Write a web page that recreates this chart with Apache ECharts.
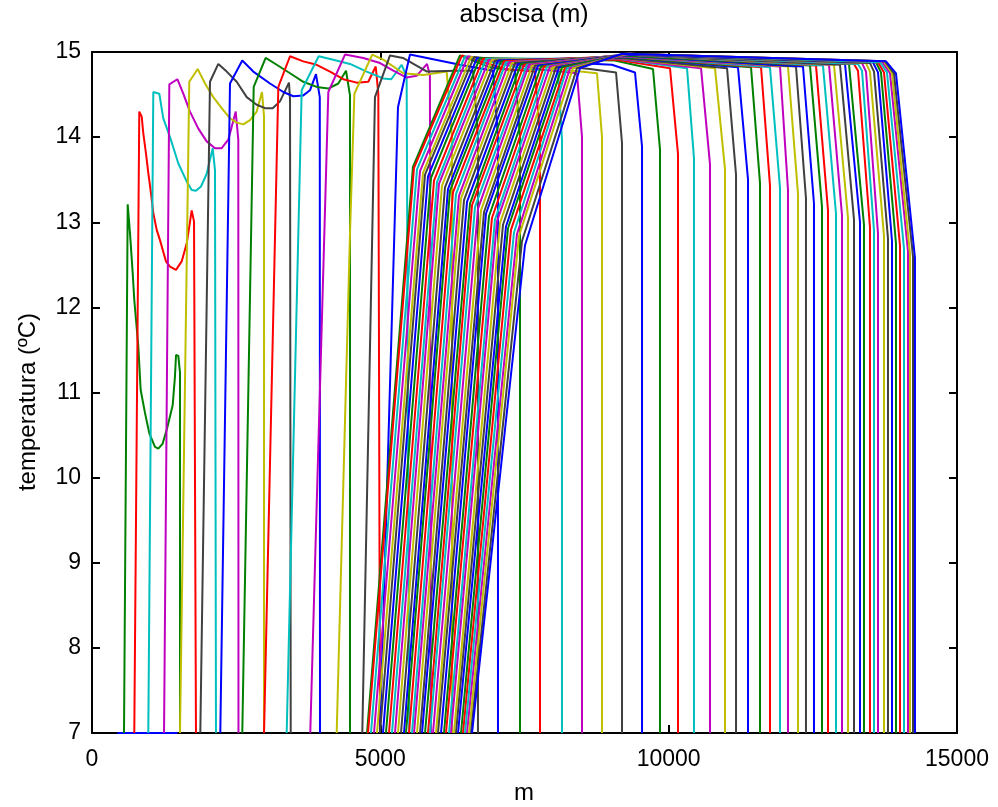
<!DOCTYPE html>
<html>
<head>
<meta charset="utf-8">
<script src="https://cdn.jsdelivr.net/npm/echarts@6/dist/echarts.min.js"></script>
<style>html,body{margin:0;padding:0;background:#fff}#chart{width:998px;height:807px}</style>
</head>
<body>
<div id="chart"></div>
<script>
// MATLAB (classic) colour order, cycled over the curves
const colorOrder = ['#0000ff', '#008000', '#ff0000', '#00bfbf', '#bf00bf', '#bfbf00', '#404040'];

const titleText = 'abscisa (m)';
const xName = 'm';
const yName = 'temperatura (ºC)';
const xMin = 0, xMax = 15000, xStep = 5000;
const yMin = 7, yMax = 15, yStep = 1;

// ---- early profiles (curves 0..13): [abscisa m, temperature ºC] ----
const c00 = [[440,7],[1480,7]];
const c01 = [[555,7],[619,13.21],[659,12.87],[706,12.40],[733,12.09],[803,11.54],[844,11.03],[919,10.76],[994,10.52],[1092,10.36],[1150,10.34],[1226,10.40],[1306,10.59],[1399,10.85],[1439,11.19],[1457,11.44],[1497,11.43],[1526,11.23],[1526,7]];
const c02 = [[733,7],[820,14.30],[862,14.24],[890,14.04],[936,13.81],[976,13.58],[1023,13.34],[1063,13.11],[1122,12.91],[1179,12.79],[1283,12.54],[1353,12.48],[1457,12.44],[1555,12.54],[1642,12.75],[1729,13.14],[1769,13.01],[1803,7]];
const c03 = [[976,7],[1063,14.53],[1167,14.51],[1236,14.22],[1353,14.00],[1497,13.69],[1642,13.48],[1729,13.38],[1803,13.37],[1890,13.42],[1989,13.57],[2093,13.87],[2133,13.61],[2150,7]];
const c04 = [[1249,7],[1341,14.62],[1480,14.68],[1583,14.51],[1699,14.30],[1844,14.10],[1989,13.95],[2133,13.87],[2249,13.87],[2364,13.97],[2492,14.30],[2537,13.97],[2540,7]];
const c05 = [[1526,7],[1687,14.65],[1833,14.80],[1960,14.63],[2103,14.47],[2249,14.34],[2393,14.22],[2509,14.17],[2624,14.15],[2740,14.20],[2856,14.30],[2948,14.53],[2983,14.24],[2983,7]];
const c06 = [[1878,7],[2046,14.65],[2190,14.86],[2336,14.77],[2509,14.65],[2683,14.47],[2856,14.38],[3000,14.34],[3133,14.34],[3260,14.42],[3416,14.64],[3434,14.44],[3446,7]];
const c07 = [[2225,7],[2393,14.63],[2606,14.90],[2797,14.77],[3087,14.63],[3317,14.53],[3491,14.48],[3664,14.49],[3780,14.55],[3884,14.74],[3950,14.47],[3954,7]];
const c08 = [[2606,7],[2804,14.59],[3012,14.93],[3203,14.85],[3434,14.75],[3664,14.65],[3896,14.59],[4098,14.57],[4271,14.63],[4405,14.78],[4474,14.49],[4474,7]];
const c09 = [[2983,7],[3231,14.59],[3434,14.95],[3664,14.89],[3896,14.85],[4127,14.77],[4358,14.68],[4590,14.64],[4791,14.65],[4920,14.83],[4965,14.51],[4994,7]];
const c10 = [[3376,7],[3636,14.55],[3931,14.95],[4184,14.91],[4474,14.86],[4763,14.77],[5051,14.69],[5190,14.68],[5370,14.85],[5456,14.71],[5502,7]];
const c11 = [[3785,7],[4098,14.53],[4387,14.97],[4705,14.93],[4994,14.87],[5225,14.78],[5456,14.70],[5630,14.72],[5810,14.86],[5860,14.72],[5878,7]];
const c12 = [[4243,7],[4474,12.87],[4550,14.51],[4860,14.97],[5051,14.91],[5398,14.75],[5745,14.73],[6150,14.77],[6243,14.00],[6243,7]];
const c13 = [[4687,7],[4907,14.47],[5168,14.96],[5393,14.93],[5809,14.77],[6300,14.78],[6607,14.78],[6693,14.00],[6693,7]];

// ---- later profiles (curves 14..56), one entry per curve ----
const famLeftBottomX = [4994,4769,4786,4838,4890,4942,4994,5046,5098,5150,5202,5254,5306,5358,5410,5445,5497,5549,5584,5636,5688,5723,5775,5827,5861,5913,5965,6000,6052,6104,6139,6191,6225,6277,6312,6347,6399,6434,6468,6503,6538,6572,6590];
const famKinkX = [5306,5566,5584,5636,5688,5740,5775,5827,5879,5931,5983,6017,6069,6121,6173,6208,6260,6312,6364,6399,6451,6503,6555,6590,6642,6694,6746,6798,6832,6884,6936,6988,7023,7075,7127,7179,7214,7266,7318,7370,7405,7457,7509];
const famKinkT = [14.35,13.65,13.64,13.62,13.60,13.58,13.56,13.54,13.52,13.49,13.47,13.45,13.43,13.41,13.39,13.37,13.35,13.33,13.31,13.28,13.26,13.24,13.22,13.20,13.18,13.16,13.14,13.12,13.10,13.07,13.05,13.03,13.01,12.99,12.97,12.95,12.93,12.91,12.88,12.86,12.84,12.78,12.73];
const famTopX = [5514,6381,6416,6468,6520,6572,6624,6676,6728,6780,6832,6884,6936,6988,7040,7092,7144,7179,7231,7283,7335,7387,7439,7491,7543,7578,7630,7682,7734,7786,7838,7890,7942,7994,8046,8098,8150,8202,8237,8289,8341,8410,8462];
const famTopT = [14.97,14.96,14.96,14.95,14.95,14.94,14.94,14.93,14.93,14.92,14.92,14.91,14.91,14.90,14.90,14.89,14.89,14.88,14.88,14.87,14.87,14.86,14.86,14.85,14.85,14.85,14.84,14.84,14.84,14.83,14.83,14.83,14.83,14.82,14.82,14.82,14.82,14.81,14.81,14.81,14.81,14.81,14.81];
const famMidX = [6381,6902,7162,7509,7855,8202,8636,9017,9069,9104,9121,9139,9156,9173,9173,9191,9191,9208,9208,9225,9225,9243,9243,9260,9260,9277,9277,9295,9295,9295,9312,9312,9312,9330,9330,9330,9330,9330,9312,9295,9260,9225,9191];
const famMidT = [14.85,14.82,14.80,14.80,14.79,14.79,14.80,14.85,14.90,14.91,14.92,14.92,14.93,14.93,14.94,14.94,14.95,14.95,14.95,14.96,14.96,14.96,14.96,14.97,14.97,14.97,14.97,14.97,14.97,14.97,14.97,14.97,14.97,14.97,14.97,14.97,14.98,14.98,14.98,14.98,14.98,14.98,14.98];
const famRightTopX = [6954,7335,7682,8081,8410,8757,9087,9416,9728,10023,10318,10561,10803,11012,11202,11428,11602,11757,11931,12069,12208,12329,12451,12555,12676,12780,12867,12971,13058,13127,13214,13283,13353,13422,13491,13543,13595,13630,13665,13699,13734,13751,13769];
const famRightTopT = [14.78,14.78,14.77,14.78,14.75,14.75,14.76,14.76,14.80,14.81,14.81,14.81,14.81,14.81,14.82,14.82,14.82,14.82,14.83,14.83,14.83,14.83,14.84,14.84,14.84,14.85,14.85,14.85,14.86,14.86,14.86,14.86,14.87,14.87,14.87,14.88,14.88,14.88,14.88,14.89,14.89,14.89,14.89];
// shoulder points of curves 44..56 (corner below the plateau)
const shoulderFrom = 44;
const famShoulderX = [13283,13353,13422,13491,13561,13630,13682,13734,13786,13838,13873,13907,13942];
const famShoulderT = [14.78,14.78,14.77,14.77,14.77,14.76,14.76,14.76,14.76,14.75,14.75,14.75,14.75];
const famRightX = [7040,7422,7769,8150,8497,8844,9191,9538,9850,10162,10439,10717,10977,11168,11376,11584,11757,11931,12069,12243,12381,12520,12659,12763,12902,13006,13110,13214,13318,13387,13491,13561,13630,13734,13803,13873,13942,14012,14081,14150,14185,14237,14271];
const famRightKinkT = [14.00,14.00,14.00,13.97,14.00,14.00,13.93,13.89,13.85,13.80,13.75,13.68,13.62,13.56,13.50,13.46,13.43,13.40,13.38,13.33,13.28,13.22,13.18,13.14,13.10,13.08,13.05,13.03,13.00,12.97,12.94,12.90,12.87,12.84,12.81,12.78,12.75,12.72,12.69,12.66,12.63,12.60,12.58];

const earlyCurves = [c00,c01,c02,c03,c04,c05,c06,c07,c08,c09,c10,c11,c12,c13];
const firstFamily = 14;

function makeSeries(idx, pts) {
  return {
    type: 'line',
    data: pts,
    showSymbol: false,
    symbol: 'none',
    clip: true,
    silent: true,
    animation: false,
    z: 2,
    lineStyle: { color: colorOrder[idx % colorOrder.length], width: 2 },
    itemStyle: { color: colorOrder[idx % colorOrder.length] }
  };
}

const series = [];
earlyCurves.forEach((pts, i) => series.push(makeSeries(i, pts)));
for (let j = 0; j < famLeftBottomX.length; j++) {
  const idx = firstFamily + j;
  const pts = [
    [famLeftBottomX[j], yMin],
    [famKinkX[j], famKinkT[j]],
    [famTopX[j], famTopT[j]],
    [famMidX[j], famMidT[j]],
    [famRightTopX[j], famRightTopT[j]]
  ];
  const s = idx - shoulderFrom;
  if (s >= 0) pts.push([famShoulderX[s], famShoulderT[s]]);
  pts.push([famRightX[j], famRightKinkT[j]]);
  pts.push([famRightX[j], yMin]);
  series.push(makeSeries(idx, pts));
}

const FONT = '"Liberation Sans", Arial, Helvetica, sans-serif';
const FS = 23;
const axisCommon = {
  axisLine: { show: true, onZero: false, lineStyle: { color: '#000', width: 2 } },
  axisTick: { show: true, inside: true, length: 8, lineStyle: { color: '#000', width: 2 } },
  splitLine: { show: false },
  minorTick: { show: false }
};
const plain = v => String(v);

const chart = echarts.init(document.getElementById('chart'), null, { renderer: 'canvas' });
chart.setOption({
  backgroundColor: '#ffffff',
  animation: false,
  grid: { left: 92, right: 41, top: 52, bottom: 74, containLabel: false },
  xAxis: [
    Object.assign({ type: 'value', min: xMin, max: xMax, interval: xStep, position: 'bottom',
      axisLabel: { color: '#000', fontSize: FS, fontFamily: FONT, margin: 15, formatter: plain } }, axisCommon),
    Object.assign({ type: 'value', min: xMin, max: xMax, interval: xStep, position: 'top',
      axisLabel: { show: false } }, axisCommon)
  ],
  yAxis: [
    Object.assign({ type: 'value', min: yMin, max: yMax, interval: yStep, position: 'left',
      axisLabel: { color: '#000', fontSize: FS, fontFamily: FONT, margin: 11, formatter: plain } }, axisCommon),
    Object.assign({ type: 'value', min: yMin, max: yMax, interval: yStep, position: 'right',
      axisLabel: { show: false } }, axisCommon)
  ],
  graphic: [
    { type: 'text', x: 524, y: 15, style: { text: titleText, fill: '#000', font: '25px ' + FONT, align: 'center', verticalAlign: 'middle' } },
    { type: 'text', x: 524, y: 793, style: { text: xName, fill: '#000', font: '24px ' + FONT, align: 'center', verticalAlign: 'middle' } },
    { type: 'text', x: 28, y: 402, rotation: Math.PI / 2, style: { text: yName, fill: '#000', font: '24px ' + FONT, align: 'center', verticalAlign: 'middle' } }
  ],
  series: series
});
</script>
</body>
</html>
